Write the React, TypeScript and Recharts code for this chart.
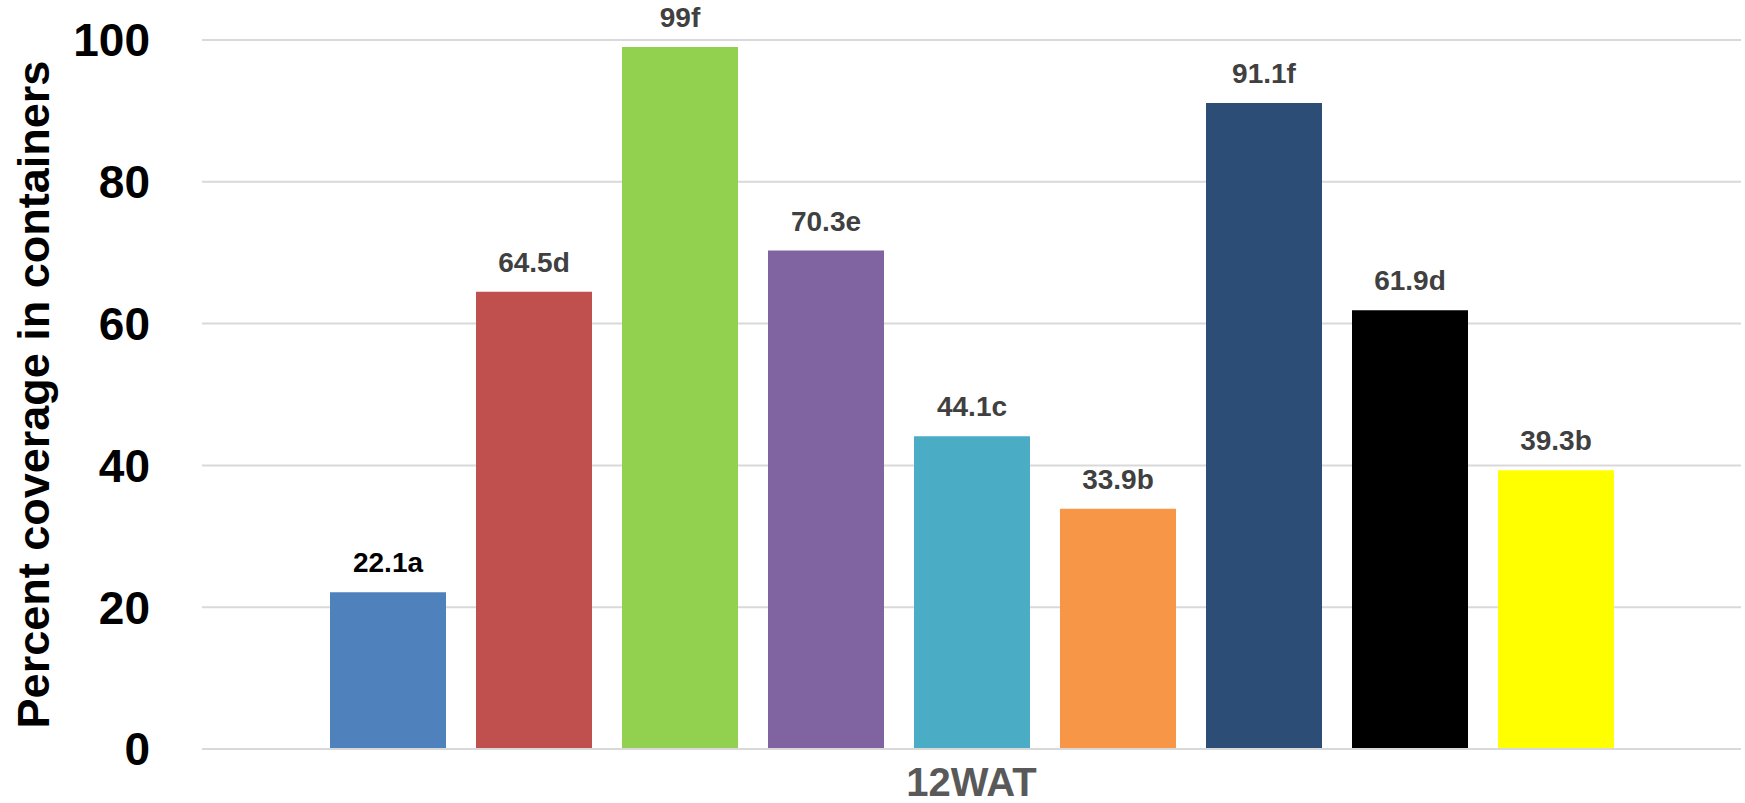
import React from 'react';
import { Bar, BarChart, CartesianGrid, LabelList, XAxis, YAxis } from 'recharts';

const categories = ['12WAT'];
const values = [22.1, 64.5, 99, 70.3, 44.1, 33.9, 91.1, 61.9, 39.3];
const letters = ['a', 'd', 'f', 'e', 'c', 'b', 'f', 'd', 'b'];
const yTicks = [0, 20, 40, 60, 80, 100];

const BAR_COLORS = ['#4F81BD', '#C0504D', '#92D050', '#8064A2', '#4BACC6', '#F79646', '#2C4D75', '#000000', '#FFFF00'];
const LABEL_COLORS = ['#000000', '#404040', '#404040', '#404040', '#404040', '#404040', '#404040', '#404040', '#404040'];
const FONT = '"Liberation Sans", Arial, sans-serif';

const data = categories.map((period) => {
  const row: Record<string, string | number> = { period };
  values.forEach((v, i) => {
    row[`s${i}`] = v;
  });
  return row;
});

function YTitle({ viewBox }: any) {
  const cx = 49;
  const cy = viewBox.y + viewBox.height / 2;
  return (
    <text
      x={cx}
      y={cy}
      transform={`rotate(-90, ${cx}, ${cy})`}
      textAnchor="middle"
      fontFamily={FONT}
      fontSize={45}
      fontWeight="bold"
      fill="#000"
    >
      Percent coverage in containers
    </text>
  );
}

export default function App() {
  return (
    <div style={{ position: 'absolute', left: 0, top: 0, background: '#fff' }}>
      <BarChart
        width={1745}
        height={803}
        data={data}
        margin={{ top: 40, right: 4, bottom: 0, left: 0 }}
        barSize={116}
        barGap={30}
      >
        <CartesianGrid vertical={false} stroke="#d9d9d9" strokeWidth={2} />
        <XAxis
          dataKey="period"
          height={54}
          tickLine={false}
          axisLine={{ stroke: '#d9d9d9', strokeWidth: 2 }}
          tickMargin={13}
          tick={{ fontSize: 40, fontWeight: 'bold', fill: '#595959', fontFamily: FONT }}
        />
        <YAxis
          width={202}
          domain={[0, 100]}
          ticks={yTicks}
          axisLine={false}
          tickLine={false}
          tickMargin={46}
          tick={{ fontSize: 46, fontWeight: 'bold', fill: '#000', fontFamily: FONT }}
          label={<YTitle />}
        />
        {values.map((_, i) => (
          <Bar key={i} dataKey={`s${i}`} fill={BAR_COLORS[i]} isAnimationActive={false}>
            <LabelList
              dataKey={`s${i}`}
              position="top"
              offset={20}
              formatter={(v: any) => `${v}${letters[i]}`}
              style={{ fontSize: 28, fontWeight: 'bold', fill: LABEL_COLORS[i], fontFamily: FONT }}
            />
          </Bar>
        ))}
      </BarChart>
    </div>
  );
}
